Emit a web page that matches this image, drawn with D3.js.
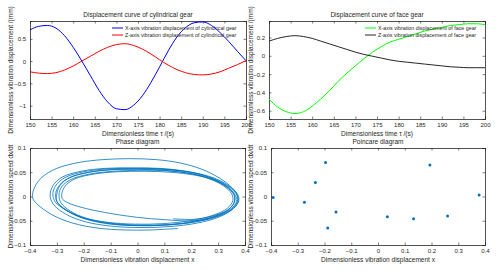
<!DOCTYPE html>
<html>
<head>
<meta charset="utf-8">
<script src="https://cdn.jsdelivr.net/npm/d3@7"></script>
<style>
  body { margin: 0; background: #fff; }
  svg text { font-family: "Liberation Sans", Arial, sans-serif; fill: #262626; }
</style>
</head>
<body>
<svg id="chart" width="500" height="270"></svg>
<script>
// time samples (dimensionless time)
let timeSamples = [150,152,154,156,158,160,162,164,166,168,170,172,174,176,178,180,182,184,186,188,190,192,194,196,198,200]
let timeTicks = [150,155,160,165,170,175,180,185,190,195,200]

// cylindrical gear
let cylX = [0.70,0.78,0.80,0.74,0.57,0.31,0.00,-0.33,-0.66,-0.92,-1.07,-1.09,-0.99,-0.78,-0.48,-0.13,0.23,0.54,0.75,0.86,0.88,0.80,0.64,0.44,0.22,0.01]
let cylZ = [-0.24,-0.27,-0.28,-0.26,-0.20,-0.11,0.00,0.11,0.22,0.31,0.37,0.39,0.35,0.27,0.16,0.03,-0.09,-0.19,-0.26,-0.30,-0.31,-0.29,-0.24,-0.16,-0.08,0.01]
let cylTicks = [-1,-0.5,0,0.5]

// face gear
let faceX = [-0.47,-0.56,-0.61,-0.63,-0.61,-0.55,-0.47,-0.38,-0.28,-0.19,-0.11,-0.03,0.04,0.10,0.15,0.18,0.21,0.24,0.27,0.29,0.31,0.33,0.34,0.35,0.35,0.34]
let faceZ = [0.16,0.19,0.21,0.22,0.21,0.19,0.16,0.13,0.10,0.07,0.04,0.015,-0.005,-0.025,-0.045,-0.06,-0.07,-0.08,-0.09,-0.10,-0.11,-0.12,-0.125,-0.13,-0.13,-0.13]
let faceTicks = [-0.6,-0.4,-0.2,0,0.2]

// phase trajectory (x, dx/dt), one row per turn
let phaseX = [
  0.150,0.050,-0.050,-0.150,-0.240,-0.310,-0.360,-0.386,-0.391,-0.382,-0.355,-0.300,-0.220,-0.130,-0.030,0.070,0.160,0.240,0.305,0.352,0.376,0.375,0.350,0.300,0.220,0.120,0.010,-0.100,-0.195,-0.265,-0.310,
  -0.325,-0.315,-0.280,-0.210,-0.120,-0.020,0.080,0.170,0.250,0.315,0.355,0.370,0.355,0.305,0.220,0.120,0.010,-0.100,-0.190,-0.255,-0.295,
  -0.305,-0.295,-0.260,-0.190,-0.100,0.000,0.100,0.190,0.265,0.320,0.350,0.355,0.335,0.280,0.195,0.095,-0.010,-0.115,-0.205,-0.265,-0.305,
  -0.315,-0.305,-0.270,-0.200,-0.110,-0.010,0.090,0.185,0.265,0.330,0.365,0.375,0.358,0.305,0.220,0.115,0.005,-0.100,-0.190,-0.250,-0.285,
  -0.292,-0.282,-0.248,-0.180,-0.090,0.010,0.110,0.200,0.275,0.330,0.358,0.360,0.338,0.285,0.205,0.105,-0.005,-0.115,-0.205,-0.265,-0.300,
  -0.300,-0.288,-0.252,-0.180,-0.085,0.020,0.120,0.210,0.285,0.340,0.370,0.372,0.350,0.295,0.210,0.105,0.000,-0.100,-0.190,-0.250,-0.278,
  -0.282,-0.270,-0.234,-0.165,-0.075,0.025,0.125,0.215,0.290,0.340,0.362,0.360,0.335,0.280,0.210,0.133
]
let phaseV = [
  -0.066,-0.069,-0.069,-0.065,-0.055,-0.040,-0.022,-0.008,0.002,0.020,0.040,0.058,0.070,0.076,0.078,0.076,0.069,0.056,0.038,0.018,0.000,-0.012,-0.028,-0.043,-0.055,-0.062,-0.064,-0.061,-0.052,-0.037,-0.018,
  0.000,0.022,0.040,0.052,0.058,0.059,0.058,0.053,0.043,0.027,0.009,-0.006,-0.022,-0.037,-0.050,-0.058,-0.060,-0.057,-0.047,-0.032,-0.015,
  0.002,0.020,0.037,0.049,0.055,0.056,0.054,0.048,0.037,0.022,0.006,-0.008,-0.024,-0.039,-0.050,-0.056,-0.057,-0.053,-0.043,-0.028,-0.012,
  0.004,0.022,0.039,0.051,0.057,0.058,0.057,0.051,0.040,0.024,0.007,-0.008,-0.024,-0.040,-0.052,-0.058,-0.059,-0.055,-0.045,-0.030,-0.013,
  0.004,0.020,0.035,0.046,0.052,0.054,0.053,0.047,0.036,0.020,0.004,-0.011,-0.027,-0.042,-0.053,-0.059,-0.060,-0.055,-0.044,-0.028,-0.010,
  0.006,0.023,0.039,0.050,0.056,0.057,0.055,0.049,0.038,0.022,0.005,-0.010,-0.026,-0.041,-0.050,-0.048,-0.043,-0.035,-0.025,-0.015,-0.006,
  0.004,0.021,0.036,0.046,0.051,0.052,0.050,0.044,0.033,0.018,0.002,-0.013,-0.028,-0.040,-0.047,-0.046
]
let phaseXTicks = [-0.4,-0.3,-0.2,-0.1,0,0.1,0.2,0.3,0.4]
let phaseVTicks = [-0.1,-0.05,0,0.05,0.1]

// poincare section points
let poinX = [-0.392,-0.275,-0.234,-0.196,-0.188,-0.157,0.035,0.133,0.194,0.260,0.378]
let poinV = [-0.002,-0.012,0.029,0.070,-0.065,-0.032,-0.042,-0.046,0.065,-0.040,0.003]

let svg = d3.select("#chart")
let axisColor = "#262626"

let panel = (box, xDomain, yDomain, xTicks, yTicks, title, xLabel, yLabel) => {
    let x = d3.scaleLinear().domain(xDomain).range([box.x0, box.x1])
    let y = d3.scaleLinear().domain(yDomain).range([box.y1, box.y0])
    let g = svg.append("g")
    let fmt = (d) => d3.format("~g")(d)

    g.append("g").attr("transform", "translate(0," + box.y1 + ")")
        .call(d3.axisBottom(x).tickValues(xTicks).tickSize(-2.5).tickPadding(4).tickFormat(fmt))
    g.append("g").attr("transform", "translate(0," + box.y0 + ")")
        .call(d3.axisTop(x).tickValues(xTicks).tickSize(-2.5).tickFormat(""))
    g.append("g").attr("transform", "translate(" + box.x0 + ",0)")
        .call(d3.axisLeft(y).tickValues(yTicks).tickSize(-2.5).tickPadding(4).tickFormat(fmt))
    g.append("g").attr("transform", "translate(" + box.x1 + ",0)")
        .call(d3.axisRight(y).tickValues(yTicks).tickSize(-2.5).tickFormat(""))
    g.selectAll(".domain").attr("stroke", axisColor).attr("stroke-width", 0.8)
    g.selectAll(".tick line").attr("stroke", axisColor).attr("stroke-width", 0.6)
    g.selectAll(".tick text").style("font-size", "6px").attr("fill", axisColor)

    g.append("text").attr("x", (box.x0 + box.x1) / 2).attr("y", box.y0 - 4)
        .attr("text-anchor", "middle").style("font-size", "6.5px").text(title)
    g.append("text").attr("x", (box.x0 + box.x1) / 2).attr("y", box.y1 + 17)
        .attr("text-anchor", "middle").style("font-size", "6.5px").text(xLabel)
    g.append("text")
        .attr("transform", "translate(" + box.ylx + "," + ((box.y0 + box.y1) / 2) + ") rotate(-90)")
        .attr("text-anchor", "middle").style("font-size", "6.5px").text(yLabel)

    let plot = svg.append("g")
    return {x, y, g: plot}
}

let legend = (p, items, lx, ly) => {
    items.forEach((it, i) => {
        p.g.append("line").attr("x1", lx).attr("x2", lx + 11)
            .attr("y1", ly + i * 7).attr("y2", ly + i * 7)
            .attr("stroke", it.color).attr("stroke-width", 1)
        p.g.append("text").attr("x", lx + 13).attr("y", ly + i * 7 + 2)
            .style("font-size", "5.3px").text(it.label)
    })
}

let timeLabel = "Dimensionless time \u03c4 /(s)"
let dispLabel = "Dimensionless vibration displacement /(mm)"

// top left
let p1 = panel({x0: 30, x1: 246, y0: 21, y1: 119, ylx: 13}, [150, 200], [-1.3, 0.9], timeTicks, cylTicks,
    "Displacement curve of cylindrical gear", timeLabel, dispLabel)
let line1 = d3.line().x((d, i) => p1.x(timeSamples[i])).y(d => p1.y(d)).curve(d3.curveMonotoneX)
p1.g.append("path").datum(cylX).attr("d", line1).attr("fill", "none").attr("stroke", "#0000ff").attr("stroke-width", 1)
p1.g.append("path").datum(cylZ).attr("d", line1).attr("fill", "none").attr("stroke", "#ff0000").attr("stroke-width", 1)
legend(p1, [{color: "#0000ff", label: "X-axis vibration displacement of cylindrical gear"},
            {color: "#ff0000", label: "Z-axis vibration displacement of cylindrical gear"}], 112, 28)

// top right
let p2 = panel({x0: 269, x1: 485, y0: 21, y1: 119, ylx: 253}, [150, 200], [-0.69, 0.38], timeTicks, faceTicks,
    "Displacement curve of face gear", timeLabel, dispLabel)
let line2 = d3.line().x((d, i) => p2.x(timeSamples[i])).y(d => p2.y(d)).curve(d3.curveMonotoneX)
p2.g.append("path").datum(faceX).attr("d", line2).attr("fill", "none").attr("stroke", "#00ff00").attr("stroke-width", 1)
p2.g.append("path").datum(faceZ).attr("d", line2).attr("fill", "none").attr("stroke", "#262626").attr("stroke-width", 1)
legend(p2, [{color: "#00ff00", label: "X-axis vibration displacement of face gear"},
            {color: "#262626", label: "Z-axis vibration displacement of face gear"}], 365, 28)

// bottom left
let p3 = panel({x0: 30, x1: 245, y0: 148, y1: 245, ylx: 13}, [-0.4, 0.4], [-0.1, 0.1], phaseXTicks, phaseVTicks,
    "Phase diagram", "Dimensionless vibration displacement x", "Dimensionless vibration speed dx/dt")
let phaseLine = d3.line().x((d, i) => p3.x(phaseX[i])).y((d, i) => p3.y(phaseV[i])).curve(d3.curveCatmullRom)
p3.g.append("path").datum(phaseX).attr("d", phaseLine).attr("fill", "none")
    .attr("stroke", "#0072bd").attr("stroke-width", 0.8)

// bottom right
let p4 = panel({x0: 271, x1: 485, y0: 148, y1: 245, ylx: 253}, [-0.4, 0.4], [-0.1, 0.1], phaseXTicks, phaseVTicks,
    "Poincare diagram", "Dimensionless vibration displacement x", "Dimensionless vibration speed dx/dt")
p4.g.selectAll("circle").data(poinX).enter().append("circle")
    .attr("cx", d => p4.x(d)).attr("cy", (d, i) => p4.y(poinV[i]))
    .attr("r", 1.5).attr("fill", "#0072bd")
</script>
</body>
</html>
